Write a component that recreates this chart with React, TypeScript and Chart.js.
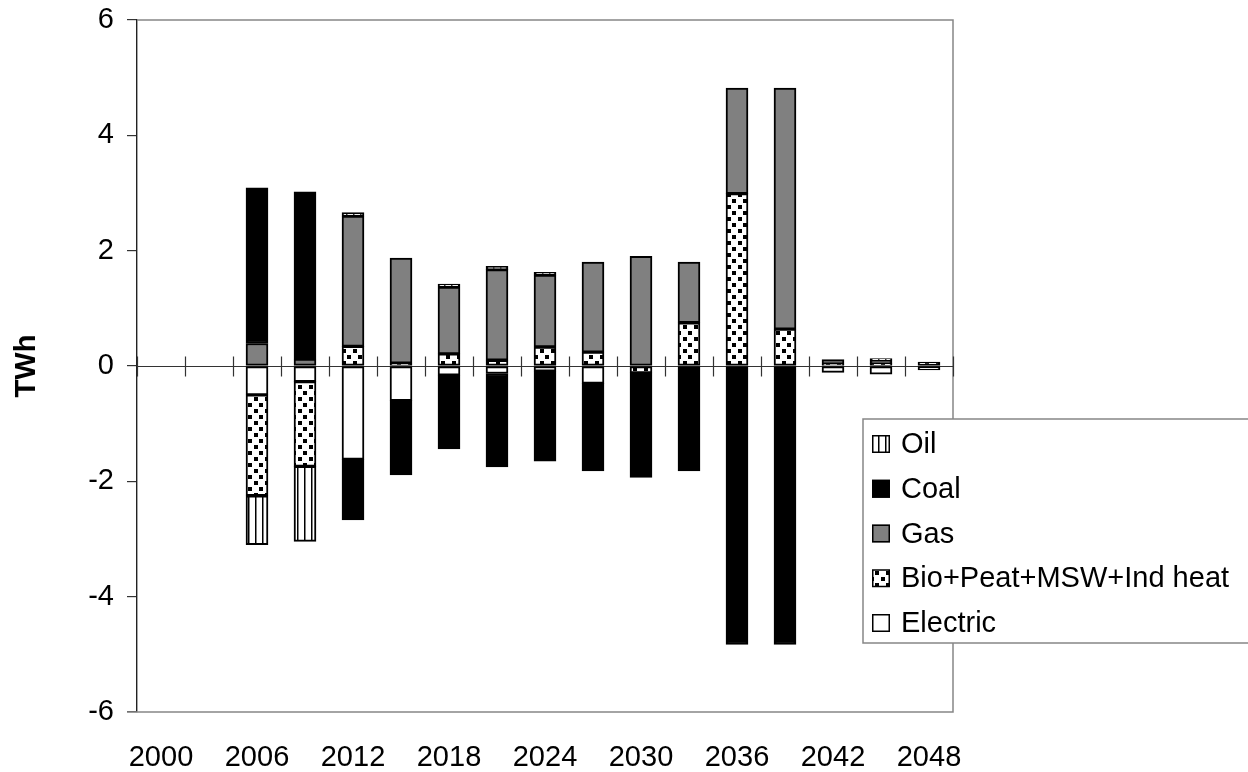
import React, { useEffect, useRef } from 'react';
import { Chart, registerables } from 'chart.js';

Chart.register(...registerables);

// Categories: every third year, labelled every other category
const YEARS = [2000, 2003, 2006, 2009, 2012, 2015, 2018, 2021, 2024, 2027, 2030, 2033, 2036, 2039, 2042, 2045, 2048];

// Change in output by fuel, TWh (stacked outward from zero in this order)
const ELECTRIC = [0, 0, -0.5, -0.27, -1.62, -0.6, -0.16, -0.13, -0.09, -0.3, 0, 0, 0, 0, -0.11, -0.14, -0.07];
const BIO = [0, 0, -1.75, -1.47, 0.34, 0.05, 0.21, 0.1, 0.33, 0.24, -0.12, 0.75, 2.99, 0.64, 0.03, 0.04, 0.07];
const GAS = [0, 0, 0.39, 0.12, 2.26, 1.82, 1.16, 1.57, 1.245, 1.56, 1.9, 1.05, 1.83, 4.18, 0.08, 0.06, 0];
const COAL = [0, 0, 2.7, 2.9, -1.05, -1.29, -1.28, -1.62, -1.56, -1.52, -1.81, -1.82, -4.83, -4.83, 0, 0, 0];
const OIL = [0, 0, -0.85, -1.3, 0.06, 0, 0.05, 0.06, 0.05, 0, 0, 0, 0, 0, 0, 0.03, 0];

const Y_TICKS = [-6, -4, -2, 0, 2, 4, 6];

const FONT_FAMILY = '"Liberation Sans", Arial, Helvetica, sans-serif';
const FONT_SIZE = 29;

function makeStripePattern(): CanvasPattern | string {
  const c = document.createElement('canvas');
  c.width = 7;
  c.height = 7;
  const g = c.getContext('2d');
  if (!g) return '#ffffff';
  g.fillStyle = '#ffffff';
  g.fillRect(0, 0, 7, 7);
  g.fillStyle = '#000000';
  g.fillRect(3, 0, 1.5, 7);
  return g.createPattern(c, 'repeat') || '#ffffff';
}

function makeConfettiPattern(): CanvasPattern | string {
  const c = document.createElement('canvas');
  c.width = 11;
  c.height = 12;
  const g = c.getContext('2d');
  if (!g) return '#ffffff';
  g.fillStyle = '#ffffff';
  g.fillRect(0, 0, 11, 12);
  g.fillStyle = '#000000';
  const squares = [
    [1, 1],
    [6, 7],
  ];
  for (const [x, y] of squares) g.fillRect(x, y, 4, 4);
  return g.createPattern(c, 'repeat') || '#ffffff';
}

export default function App() {
  const canvasRef = useRef<HTMLCanvasElement | null>(null);

  useEffect(() => {
    const canvas = canvasRef.current;
    if (!canvas) return;

    const stripes = makeStripePattern();
    const confetti = makeConfettiPattern();
    const toData = (arr: number[]) => arr.map((v) => (v === 0 ? null : v));

    const series = [
      { label: 'Electric', values: ELECTRIC, fill: '#ffffff' as any },
      { label: 'Bio+Peat+MSW+Ind heat', values: BIO, fill: confetti },
      { label: 'Gas', values: GAS, fill: '#808080' },
      { label: 'Coal', values: COAL, fill: '#000000' },
      { label: 'Oil', values: OIL, fill: stripes },
    ];

    const datasets = series.map((s) => ({
      label: s.label,
      data: toData(s.values),
      backgroundColor: s.fill,
      borderColor: '#000000',
      borderWidth: 2,
      borderSkipped: false as const,
      barThickness: 22,
    }));

    const font = { family: FONT_FAMILY, size: FONT_SIZE };

    // Plot frame plus the category axis drawn through zero with crossing ticks
    const framePlugin = {
      id: 'frame',
      beforeDatasetsDraw(chart: any) {
        const { ctx, chartArea } = chart;
        const xs = chart.scales.x;
        const ys = chart.scales.y;
        ctx.save();
        ctx.strokeStyle = '#868686';
        ctx.lineWidth = 1.5;
        ctx.beginPath();
        ctx.moveTo(chartArea.left, chartArea.top);
        ctx.lineTo(chartArea.right, chartArea.top);
        ctx.lineTo(chartArea.right, chartArea.bottom);
        ctx.lineTo(chartArea.left - 10, chartArea.bottom);
        ctx.stroke();

        const y0 = Math.round(ys.getPixelForValue(0)) + 0.5;
        ctx.strokeStyle = '#333333';
        ctx.lineWidth = 1.2;
        ctx.beginPath();
        ctx.moveTo(chartArea.left, y0);
        ctx.lineTo(chartArea.right, y0);
        for (let i = 0; i <= YEARS.length; i++) {
          const x = Math.round(xs.getPixelForValue(i - 0.5)) + 0.5;
          ctx.moveTo(x, y0 - 10);
          ctx.lineTo(x, y0 + 10);
        }
        ctx.stroke();
        ctx.restore();
      },
    };

    // Boxed legend overlapping the lower right of the plot
    const legendPlugin = {
      id: 'boxLegend',
      afterDraw(chart: any) {
        const { ctx } = chart;
        const items = chart.data.datasets.slice().reverse();
        ctx.save();
        ctx.fillStyle = '#ffffff';
        ctx.fillRect(863, 419, 420, 224);
        ctx.strokeStyle = '#868686';
        ctx.lineWidth = 1.5;
        ctx.strokeRect(863, 419, 420, 224);
        ctx.font = `${FONT_SIZE}px ${FONT_FAMILY}`;
        ctx.textBaseline = 'middle';
        ctx.textAlign = 'left';
        items.forEach((ds: any, i: number) => {
          const cy = 444 + i * 44.75;
          ctx.fillStyle = ds.backgroundColor;
          ctx.fillRect(872, cy - 9, 18, 18);
          ctx.strokeStyle = '#000000';
          ctx.lineWidth = 1.5;
          ctx.strokeRect(872.75, cy - 8.25, 16.5, 16.5);
          ctx.fillStyle = '#000000';
          ctx.fillText(ds.label, 901, cy + 1);
        });
        ctx.restore();
      },
    };

    const chart = new Chart(canvas, {
      type: 'bar',
      data: { labels: YEARS.map(String), datasets: datasets as any },
      options: {
        animation: false,
        responsive: false,
        maintainAspectRatio: false,
        layout: { padding: { top: 20, right: 295, left: 0, bottom: 0 } },
        plugins: {
          legend: { display: false },
          tooltip: { enabled: false },
        },
        scales: {
          x: {
            stacked: true,
            offset: true,
            grid: { display: false, drawTicks: false },
            border: { display: false },
            ticks: {
              autoSkip: false,
              maxRotation: 0,
              minRotation: 0,
              padding: 29,
              color: '#000000',
              font,
              callback: (_v: any, i: number) => (i % 2 === 0 ? String(YEARS[i]) : ''),
            },
            afterFit: (s: any) => {
              s.height = 60;
              s.paddingLeft = 0;
              s.paddingRight = 0;
            },
          },
          y: {
            stacked: true,
            min: Y_TICKS[0],
            max: Y_TICKS[Y_TICKS.length - 1],
            ticks: { stepSize: 2, padding: 13, color: '#000000', font },
            grid: { drawOnChartArea: false, tickLength: 10, color: '#333333', lineWidth: 1.2 },
            border: { display: true, color: '#222222', width: 1.4 },
            title: {
              display: true,
              text: 'TWh',
              color: '#000000',
              font: { family: FONT_FAMILY, size: FONT_SIZE, weight: 'bold' },
              padding: { top: 10, bottom: 0 },
            },
            afterFit: (s: any) => {
              s.width = 137;
              s.paddingTop = 0;
              s.paddingBottom = 0;
            },
          },
        },
      },
      plugins: [framePlugin, legendPlugin],
    });

    return () => chart.destroy();
  }, []);

  return (
    <div style={{ position: 'fixed', left: 0, top: 0, width: 1248, height: 772, background: '#ffffff' }}>
      <canvas ref={canvasRef} width={1248} height={772} style={{ display: 'block' }} />
    </div>
  );
}
